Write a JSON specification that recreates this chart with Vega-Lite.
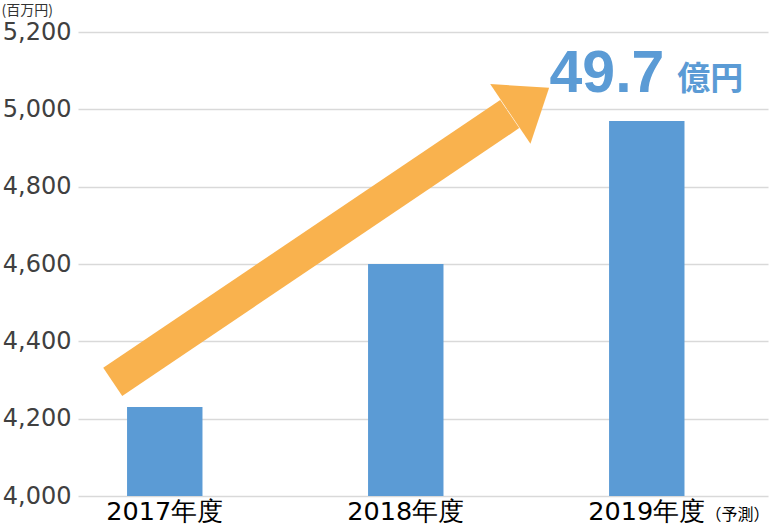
{
  "$schema": "https://vega.github.io/schema/vega-lite/v6.json",
  "width": 690,
  "height": 464,
  "autosize": "none",
  "padding": {"left": 78, "top": 32, "right": 1, "bottom": 30},
  "config": {"view": {"stroke": null}, "font": "DejaVu Sans"},
  "datasets": {
    "bars": [
      {"year": "2017年度", "value": 4230, "base": 4000},
      {"year": "2018年度", "value": 4600, "base": 4000},
      {"year": "2019年度", "value": 4970, "base": 4000}
    ],
    "arrow": [
      {"px": 0.151, "py": 4295},
      {"px": 1.877, "py": 4988}
    ],
    "tip": [
      {"px": 1.964, "py": 5022}
    ]
  },
  "layer": [
    {
      "layer": [
        {
          "data": {"name": "bars"},
          "mark": {"type": "bar", "color": "#5B9BD5"},
          "encoding": {
            "x": {
              "field": "year",
              "type": "nominal",
              "sort": null,
              "scale": {"paddingInner": 0.687, "paddingOuter": 0.275, "align": 0.37},
              "axis": {
                "title": null,
                "labelAngle": 0,
                "labelFontSize": 25.5,
                "labelColor": "#000000",
                "labelPadding": 23,
                "labelBaseline": "alphabetic",
                "domain": false,
                "ticks": false,
                "tickSize": 0,
                "grid": false,
                "zindex": 1,
                "labelFont": "DejaVu Sans"
              }
            },
            "y": {
              "field": "value",
              "type": "quantitative",
              "scale": {"domain": [4000, 5200], "nice": false, "zero": false},
              "axis": {
                "values": [4000, 4200, 4400, 4600, 4800, 5000, 5200],
                "format": ",.0f",
                "title": "(百万円)",
                "titleAngle": 0,
                "titleAlign": "left",
                "titleBaseline": "top",
                "titleX": -77,
                "titleY": -29,
                "titleFontSize": 14,
                "titleFontWeight": "normal",
                "titleColor": "#333333",
                "titleFont": "Noto Sans CJK JP",
                "domain": false,
                "ticks": false,
                "tickSize": 0,
                "gridColor": "#D9D9D9",
                "gridWidth": 1.5,
                "labelFontSize": 24,
                "labelColor": "#404040",
                "labelPadding": 7,
                "labelFont": "DejaVu Sans"
              }
            },
            "y2": {"field": "base"}
          }
        }
      ]
    },
    {
      "layer": [
        {
          "data": {"name": "arrow"},
          "mark": {"type": "line", "color": "#F9B24E", "strokeWidth": 34, "strokeCap": "butt"},
          "encoding": {
            "x": {"field": "px", "type": "quantitative", "scale": {"domain": [0, 3], "nice": false, "zero": false}, "axis": null},
            "y": {"field": "py", "type": "quantitative", "scale": {"domain": [4000, 5200], "nice": false, "zero": false}}
          }
        },
        {
          "data": {"name": "tip"},
          "mark": {"type": "point", "filled": true, "color": "#F9B24E", "opacity": 1, "shape": "M-0.65,-1L0.65,0L-0.65,1Z", "size": 5184, "angle": 326, "strokeWidth": 0},
          "encoding": {
            "x": {"field": "px", "type": "quantitative", "scale": {"domain": [0, 3], "nice": false, "zero": false}, "axis": null},
            "y": {"field": "py", "type": "quantitative"}
          }
        },
        {
          "data": {"values": [{"label": "49.7"}]},
          "mark": {"type": "text", "align": "left", "baseline": "alphabetic", "fontSize": 59, "fontWeight": "bold", "font": "Liberation Sans", "color": "#5B9BD5"},
          "encoding": {
            "x": {"datum": 2.05, "type": "quantitative", "scale": {"domain": [0, 3], "nice": false, "zero": false}, "axis": null},
            "y": {"datum": 5046, "type": "quantitative"},
            "text": {"field": "label"}
          }
        },
        {
          "data": {"values": [{"label": "億円"}]},
          "mark": {"type": "text", "align": "left", "baseline": "alphabetic", "fontSize": 33, "fontWeight": "bold", "font": "Noto Sans CJK JP", "color": "#5B9BD5"},
          "encoding": {
            "x": {"datum": 2.605, "type": "quantitative", "scale": {"domain": [0, 3], "nice": false, "zero": false}, "axis": null},
            "y": {"datum": 5050, "type": "quantitative"},
            "text": {"field": "label"}
          }
        },
        {
          "data": {"values": [{"label": "（予測）"}]},
          "mark": {"type": "text", "align": "left", "baseline": "alphabetic", "fontSize": 16, "font": "Noto Sans CJK JP", "color": "#000000", "dy": 24},
          "encoding": {
            "x": {"datum": 2.728, "type": "quantitative", "scale": {"domain": [0, 3], "nice": false, "zero": false}, "axis": null},
            "y": {"datum": 4000, "type": "quantitative"},
            "text": {"field": "label"}
          }
        }
      ]
    }
  ],
  "resolve": {"scale": {"x": "independent"}}
}
